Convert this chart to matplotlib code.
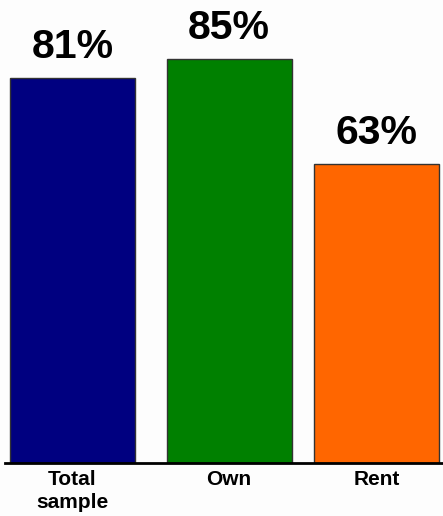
import matplotlib
matplotlib.use("Agg")
import matplotlib.pyplot as plt

categories = ["Total\nsample", "Own", "Rent"]
values = [81, 85, 63]
colors = ["#000080", "#008000", "#FF6600"]

W, H = 443, 516
fig = plt.figure(figsize=(W / 100, H / 100), dpi=100)
fig.patch.set_facecolor("#fdfdfd")

base = 463
ax = fig.add_axes([5 / W, (H - base) / H, (W - 5) / W, base / H])
ax.set_facecolor("none")

centers = [72.5, 229, 376.5]
ax.bar(centers, values, width=125, color=colors, edgecolor="#333333", linewidth=1)
ax.set_xlim(5, 443)
ax.set_ylim(0, base / 4.75)

for x, v in zip(centers, values):
    ax.text(x, v + 4.2, f"{v}%", ha="center", va="baseline",
            fontsize=29.5, fontweight="bold", family="Liberation Sans", color="black")

ax.set_xticks(centers)
ax.set_xticklabels(categories, fontsize=15, fontweight="bold", family="Liberation Sans",
                   linespacing=1.3)
ax.tick_params(axis="x", length=0, pad=5)
ax.set_yticks([])
for s in ["top", "right", "left"]:
    ax.spines[s].set_visible(False)
ax.spines["bottom"].set_linewidth(2)
ax.spines["bottom"].set_color("black")

fig.savefig("out.png", dpi=100, facecolor=fig.get_facecolor())
